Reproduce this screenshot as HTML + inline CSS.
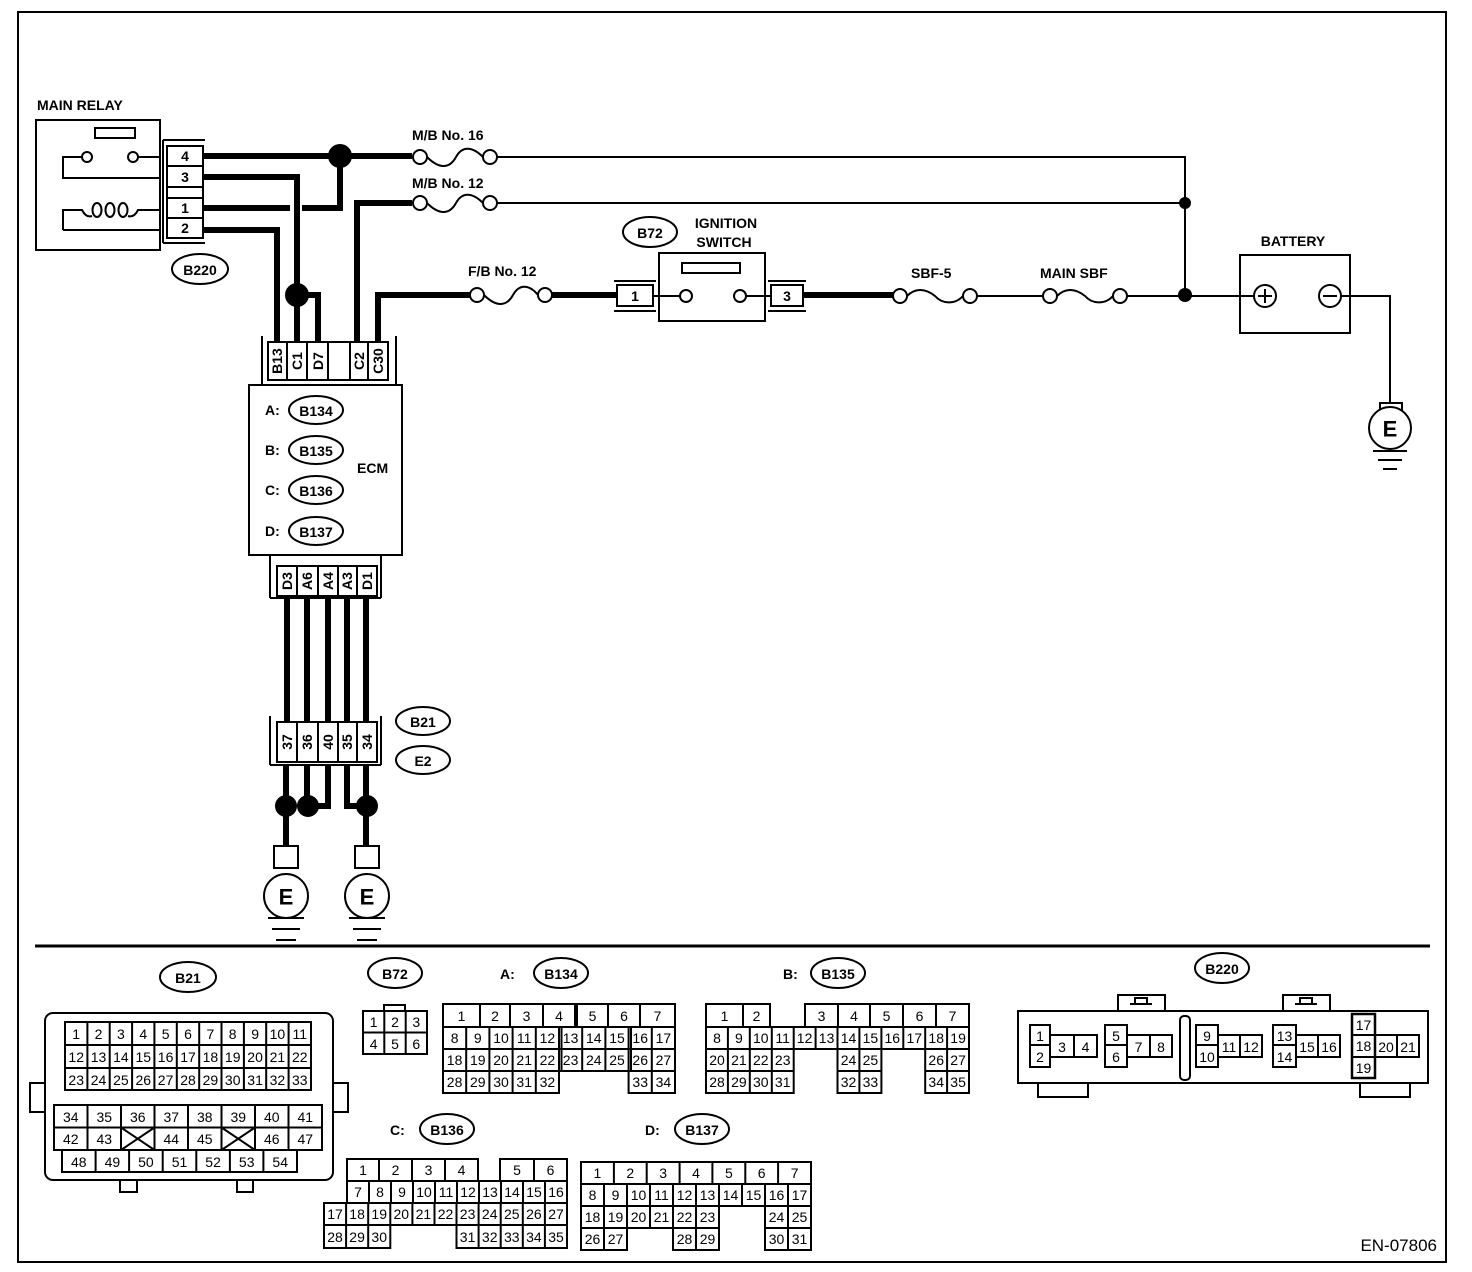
<!DOCTYPE html>
<html><head><meta charset="utf-8"><style>
html,body{margin:0;padding:0;background:#fff}
svg{display:block}
text{font-family:"Liberation Sans",sans-serif;fill:#000}
.b{font-weight:bold;font-size:14px}
.c{font-size:14px;text-anchor:middle;dominant-baseline:central}
.p{font-weight:bold;font-size:14px;text-anchor:middle;dominant-baseline:central}
.t{fill:none;stroke:#000;stroke-width:2}
.w{fill:none;stroke:#000;stroke-width:6}
.f{fill:#fff;stroke:#000;stroke-width:2}
</style></head><body>
<svg width="1472" height="1272" viewBox="0 0 1472 1272" xmlns="http://www.w3.org/2000/svg">
<rect x="18" y="12" width="1428" height="1250" class="t"/>
<line x1="35" y1="946" x2="1430" y2="946" stroke="#000" stroke-width="3"/>

<!-- MAIN RELAY -->
<text x="37" y="110" class="b">MAIN RELAY</text>
<rect x="36" y="120" width="124" height="130" class="t"/>
<rect x="95" y="128" width="40" height="10" class="t"/>
<path d="M82,157 H63 V178 H160 M138,157 H160" class="t"/>
<circle cx="87" cy="157" r="5" class="f"/><circle cx="133" cy="157" r="5" class="f"/>
<path d="M63,230 V210 H82 Q86,218 92 216 M128,216 Q134,218 138 210 H160 M63,230 H160" class="t"/>
<ellipse cx="97" cy="210" rx="4.5" ry="7" class="t"/>
<ellipse cx="110" cy="210" rx="4.5" ry="7" class="t"/>
<ellipse cx="123" cy="210" rx="4.5" ry="7" class="t"/>
<path d="M163,140 H205 M163,243 H205 M163,140 V243" class="t"/>
<rect x="167" y="146" width="36" height="20" class="f"/><text x="185" y="156" class="p">4</text>
<rect x="167" y="166" width="36" height="21" class="f"/><text x="185" y="177" class="p">3</text>
<rect x="167" y="187" width="36" height="11" class="f"/>
<rect x="167" y="198" width="36" height="20" class="f"/><text x="185" y="208" class="p">1</text>
<rect x="167" y="218" width="36" height="20" class="f"/><text x="185" y="228" class="p">2</text>
<ellipse cx="200" cy="269" rx="28" ry="15" class="t"/><text x="200" y="270" class="p">B220</text>

<!-- wires top -->
<path d="M203,156 H412" class="w"/>
<path d="M340,156 V208 H302 M290,208 H203" class="w"/>
<circle cx="340" cy="156" r="12"/>
<path d="M203,177 H297 V345" class="w"/>
<path d="M203,230 H277 V345" class="w"/>
<circle cx="297" cy="295" r="12"/>
<path d="M297,295 H318 V345" class="w"/>
<path d="M357,345 V203 H412" class="w"/>
<path d="M378,345 V295 H470" class="w"/>

<!-- fuses -->
<text x="412" y="140" class="b">M/B No. 16</text>
<circle cx="420" cy="157" r="7" class="f"/><circle cx="490" cy="157" r="7" class="f"/>
<path d="M427,157 C440,170 450,168 456,157 C462,146 472,146 483,157" class="t"/>
<text x="412" y="188" class="b">M/B No. 12</text>
<circle cx="420" cy="203" r="7" class="f"/><circle cx="490" cy="203" r="7" class="f"/>
<path d="M427,203 C440,216 450,214 456,203 C462,192 472,192 483,203" class="t"/>
<path d="M497,157 H1185 V295 M497,203 H1185" class="t"/>
<circle cx="1185" cy="203" r="6"/>

<text x="468" y="276" class="b">F/B No. 12</text>
<circle cx="477" cy="295" r="7" class="f"/><circle cx="545" cy="295" r="7" class="f"/>
<path d="M484,295 C497,308 507,306 513,295 C519,284 529,284 538,295" class="t"/>
<path d="M552,295 H617" class="w"/>

<!-- ignition -->
<ellipse cx="650" cy="232" rx="27" ry="15" class="t"/><text x="650" y="233" class="p">B72</text>
<text x="726" y="228" class="b" text-anchor="middle">IGNITION</text>
<text x="724" y="247" class="b" text-anchor="middle">SWITCH</text>
<rect x="659" y="253" width="106" height="68" class="t"/>
<rect x="682" y="263" width="58" height="10" class="t"/>
<path d="M614,281 H656 M614,311 H656 M768,281 H806 M768,311 H806" class="t"/>
<rect x="617" y="285" width="36" height="21" class="f"/><text x="635" y="296" class="p">1</text>
<rect x="771" y="285" width="32" height="21" class="f"/><text x="787" y="296" class="p">3</text>
<path d="M653,296 H680 M746,296 H771" class="t"/>
<circle cx="686" cy="296" r="6" class="f"/><circle cx="740" cy="296" r="6" class="f"/>
<path d="M803,295 H893" class="w"/>
<text x="911" y="278" class="b">SBF-5</text>
<circle cx="900" cy="296" r="7" class="f"/><circle cx="970" cy="296" r="7" class="f"/>
<path d="M907,296 C915,288 925,288 935,296 C942,304 955,305 963,296" class="t"/>
<text x="1040" y="278" class="b">MAIN SBF</text>
<path d="M977,296 H1043 M1127,296 H1254" class="t"/>
<circle cx="1050" cy="296" r="7" class="f"/><circle cx="1120" cy="296" r="7" class="f"/>
<path d="M1057,296 C1065,288 1075,288 1085,296 C1092,304 1105,305 1113,296" class="t"/>
<circle cx="1185" cy="295" r="7"/>

<!-- battery -->
<text x="1293" y="246" class="b" text-anchor="middle">BATTERY</text>
<rect x="1240" y="255" width="110" height="78" class="t"/>
<circle cx="1265" cy="296" r="11" class="f"/><path d="M1258,296 H1272 M1265,289 V303" class="t"/>
<circle cx="1330" cy="296" r="11" class="f"/><path d="M1323,296 H1337" class="t"/>
<path d="M1341,296 H1390 V403" class="t"/>
<rect x="1380" y="403" width="22" height="22" class="t"/>
<path d="M1384,425 V430 M1396,425 V430" class="t"/>
<circle cx="1390" cy="428" r="21" class="f"/>
<text x="1390" y="429" class="p" style="font-size:22px">E</text>
<path d="M1373,451 H1407 M1378,460 H1402 M1383,469 H1397" class="t"/>

<!-- ECM top connector -->
<path d="M262,336 V385 M396,336 V385 M249,385 H402" class="t"/>
<rect x="268" y="342" width="120" height="38" class="f"/>
<path d="M287,342 V380 M307,342 V380 M328,342 V380 M350,342 V380 M368,342 V380" class="t"/>
<text transform="translate(277,361) rotate(-90)" class="p">B13</text>
<text transform="translate(297,361) rotate(-90)" class="p">C1</text>
<text transform="translate(318,361) rotate(-90)" class="p">D7</text>
<text transform="translate(359,361) rotate(-90)" class="p">C2</text>
<text transform="translate(378,361) rotate(-90)" class="p">C30</text>
<rect x="249" y="385" width="153" height="170" class="t"/>
<text x="265" y="415" class="b">A:</text><ellipse cx="316" cy="410" rx="27" ry="14" class="t"/><text x="316" y="411" class="p">B134</text>
<text x="265" y="455" class="b">B:</text><ellipse cx="316" cy="450" rx="27" ry="14" class="t"/><text x="316" y="451" class="p">B135</text>
<text x="265" y="495" class="b">C:</text><ellipse cx="316" cy="490" rx="27" ry="14" class="t"/><text x="316" y="491" class="p">B136</text>
<text x="265" y="536" class="b">D:</text><ellipse cx="316" cy="531" rx="27" ry="14" class="t"/><text x="316" y="532" class="p">B137</text>
<text x="357" y="473" class="b">ECM</text>

<!-- ECM bottom connector -->
<path d="M270,555 V598 M381,555 V598 M270,598 H381" class="t"/>
<rect x="277" y="566" width="100" height="30" class="f"/>
<path d="M297,566 V596 M318,566 V596 M338,566 V596 M357,566 V596" class="t"/>
<text transform="translate(287,581) rotate(-90)" class="p">D3</text>
<text transform="translate(307,581) rotate(-90)" class="p">A6</text>
<text transform="translate(328,581) rotate(-90)" class="p">A4</text>
<text transform="translate(347,581) rotate(-90)" class="p">A3</text>
<text transform="translate(367,581) rotate(-90)" class="p">D1</text>
<path d="M287,598 V722 M307,598 V722 M328,598 V722 M347,598 V722 M366,598 V722" class="w"/>
<path d="M270,716 V765 M381,716 V765 M270,765 H381" class="t"/>
<rect x="277" y="722" width="100" height="40" class="f"/>
<path d="M297,722 V762 M318,722 V762 M338,722 V762 M357,722 V762" class="t"/>
<text transform="translate(287,742) rotate(-90)" class="p">37</text>
<text transform="translate(307,742) rotate(-90)" class="p">36</text>
<text transform="translate(328,742) rotate(-90)" class="p">40</text>
<text transform="translate(347,742) rotate(-90)" class="p">35</text>
<text transform="translate(367,742) rotate(-90)" class="p">34</text>
<ellipse cx="423" cy="721" rx="27" ry="14" class="t"/><text x="423" y="722" class="p">B21</text>
<ellipse cx="423" cy="760" rx="27" ry="14" class="t"/><text x="423" y="761" class="p">E2</text>
<path d="M286,765 V848 M307,765 V806 M328,765 V806 H307 M347,765 V806 H366 M366,765 V848" class="w"/>
<circle cx="286" cy="806" r="11"/><circle cx="308" cy="806" r="11"/><circle cx="367" cy="806" r="11"/>
<rect x="274" y="846" width="24" height="22" class="f"/>
<circle cx="286" cy="896" r="22" class="f"/><text x="286" y="897" class="p" style="font-size:22px">E</text>
<path d="M268,918 H304 M272,929 H300 M276,940 H296" class="t"/>
<rect x="355" y="846" width="24" height="22" class="f"/>
<circle cx="367" cy="896" r="22" class="f"/><text x="367" y="897" class="p" style="font-size:22px">E</text>
<path d="M349,918 H385 M353,929 H381 M357,940 H377" class="t"/>

<!-- ===== Bottom connectors ===== -->
<g class="c">
<!-- B21 -->
<ellipse cx="188" cy="977" rx="28" ry="15" class="t"/><text x="188" y="978" class="p">B21</text>
<rect x="45" y="1013" width="288" height="167" rx="8" class="t"/>
<path d="M45,1083 H30 V1112 H45 M333,1083 H348 V1112 H333 M120,1180 V1192 H137 V1180 M237,1180 V1192 H253 V1180" class="t"/>
<rect x="65" y="1022" width="246" height="68" class="t"/>
<path d="M87.4,1022V1090M109.7,1022V1090M132.1,1022V1090M154.4,1022V1090M176.8,1022V1090M199.2,1022V1090M221.5,1022V1090M243.9,1022V1090M266.2,1022V1090M288.6,1022V1090M65,1045H311M65,1068H311" class="t"/>
<text x="76.2" y="1034">1</text><text x="98.5" y="1034">2</text><text x="120.9" y="1034">3</text><text x="143.3" y="1034">4</text><text x="165.6" y="1034">5</text><text x="188" y="1034">6</text><text x="210.4" y="1034">7</text><text x="232.7" y="1034">8</text><text x="255.1" y="1034">9</text><text x="277.4" y="1034">10</text><text x="299.8" y="1034">11</text>
<text x="76.2" y="1057">12</text><text x="98.5" y="1057">13</text><text x="120.9" y="1057">14</text><text x="143.3" y="1057">15</text><text x="165.6" y="1057">16</text><text x="188" y="1057">17</text><text x="210.4" y="1057">18</text><text x="232.7" y="1057">19</text><text x="255.1" y="1057">20</text><text x="277.4" y="1057">21</text><text x="299.8" y="1057">22</text>
<text x="76.2" y="1080">23</text><text x="98.5" y="1080">24</text><text x="120.9" y="1080">25</text><text x="143.3" y="1080">26</text><text x="165.6" y="1080">27</text><text x="188" y="1080">28</text><text x="210.4" y="1080">29</text><text x="232.7" y="1080">30</text><text x="255.1" y="1080">31</text><text x="277.4" y="1080">32</text><text x="299.8" y="1080">33</text>
<rect x="54" y="1105" width="268" height="45" class="t"/>
<path d="M87.5,1105V1150M121,1105V1150M154.5,1105V1150M188,1105V1150M221.5,1105V1150M255,1105V1150M288.5,1105V1150M54,1127.5H322M121,1127.5L154.5,1150M154.5,1127.5L121,1150M221.5,1127.5L255,1150M255,1127.5L221.5,1150" class="t"/>
<rect x="62" y="1150" width="235" height="22" class="t"/>
<path d="M95.6,1150V1172M129.1,1150V1172M162.7,1150V1172M196.3,1150V1172M229.9,1150V1172M263.4,1150V1172" class="t"/>
<text x="70.8" y="1117">34</text><text x="104.3" y="1117">35</text><text x="137.8" y="1117">36</text><text x="171.3" y="1117">37</text><text x="204.8" y="1117">38</text><text x="238.3" y="1117">39</text><text x="271.8" y="1117">40</text><text x="305.3" y="1117">41</text>
<text x="70.8" y="1139">42</text><text x="104.3" y="1139">43</text><text x="171.3" y="1139">44</text><text x="204.8" y="1139">45</text><text x="271.8" y="1139">46</text><text x="305.3" y="1139">47</text>
<text x="78.8" y="1162">48</text><text x="112.4" y="1162">49</text><text x="145.9" y="1162">50</text><text x="179.5" y="1162">51</text><text x="213.1" y="1162">52</text><text x="246.7" y="1162">53</text><text x="280.2" y="1162">54</text>

<!-- B72 -->
<ellipse cx="395" cy="973" rx="27" ry="15" class="t"/><text x="395" y="974" class="p">B72</text>
<rect x="384" y="1005" width="21" height="6" class="t"/>
<rect x="363" y="1011" width="64" height="43" class="t"/>
<path d="M384.3,1011V1054M405.7,1011V1054M363,1032.5H427" class="t"/>
<text x="373.7" y="1022">1</text><text x="395" y="1022">2</text><text x="416.3" y="1022">3</text>
<text x="373.7" y="1044">4</text><text x="395" y="1044">5</text><text x="416.3" y="1044">6</text>

<!-- B134 -->
<text x="500" y="979" class="b" text-anchor="start" dominant-baseline="auto">A:</text>
<ellipse cx="561" cy="973" rx="27" ry="15" class="t"/><text x="561" y="974" class="p">B134</text>
<rect x="443" y="1004" width="232" height="23" class="t"/>
<path d="M480,1004V1027M510,1004V1027M543,1004V1027M575,1004V1027M577,1004V1027M608,1004V1027M640,1004V1027" class="t"/>
<text x="461.5" y="1016">1</text><text x="495" y="1016">2</text><text x="526.5" y="1016">3</text><text x="559" y="1016">4</text><text x="592.5" y="1016">5</text><text x="624" y="1016">6</text><text x="657.5" y="1016">7</text>
<rect x="443" y="1027" width="232" height="44" class="t"/>
<path d="M466.2,1027V1071M489.4,1027V1071M512.6,1027V1071M535.8,1027V1071M559,1027V1071M561.5,1027V1071M582.2,1027V1071M605.4,1027V1071M628.6,1027V1071M631,1027V1071M651.8,1027V1071M443,1049H675" class="t"/>
<text x="454.6" y="1038">8</text><text x="477.8" y="1038">9</text><text x="501" y="1038">10</text><text x="524.2" y="1038">11</text><text x="547.4" y="1038">12</text><text x="570.6" y="1038">13</text><text x="593.8" y="1038">14</text><text x="617" y="1038">15</text><text x="640.2" y="1038">16</text><text x="663.4" y="1038">17</text>
<text x="454.6" y="1060">18</text><text x="477.8" y="1060">19</text><text x="501" y="1060">20</text><text x="524.2" y="1060">21</text><text x="547.4" y="1060">22</text><text x="570.6" y="1060">23</text><text x="593.8" y="1060">24</text><text x="617" y="1060">25</text><text x="640.2" y="1060">26</text><text x="663.4" y="1060">27</text>
<rect x="443" y="1071" width="116" height="22" class="t"/>
<path d="M466.2,1071V1093M489.4,1071V1093M512.6,1071V1093M535.8,1071V1093" class="t"/>
<rect x="628.6" y="1071" width="46.4" height="22" class="t"/><path d="M651.8,1071V1093" class="t"/>
<text x="454.6" y="1082">28</text><text x="477.8" y="1082">29</text><text x="501" y="1082">30</text><text x="524.2" y="1082">31</text><text x="547.4" y="1082">32</text><text x="640.2" y="1082">33</text><text x="663.4" y="1082">34</text>

<!-- B135 -->
<text x="783" y="979" class="b" text-anchor="start" dominant-baseline="auto">B:</text>
<ellipse cx="838" cy="973" rx="27" ry="15" class="t"/><text x="838" y="974" class="p">B135</text>
<rect x="706" y="1004" width="64" height="23" class="t"/><path d="M743,1004V1027" class="t"/>
<rect x="805" y="1004" width="164" height="23" class="t"/>
<path d="M838,1004V1027M870,1004V1027M903,1004V1027M936,1004V1027" class="t"/>
<text x="724.5" y="1016">1</text><text x="756.5" y="1016">2</text><text x="821.5" y="1016">3</text><text x="854" y="1016">4</text><text x="886.5" y="1016">5</text><text x="919.5" y="1016">6</text><text x="952.5" y="1016">7</text>
<rect x="706" y="1027" width="263" height="22" class="t"/>
<path d="M727.9,1027V1049M749.8,1027V1049M771.8,1027V1049M793.7,1027V1049M815.6,1027V1049M837.5,1027V1049M859.4,1027V1049M881.4,1027V1049M903.3,1027V1049M925.2,1027V1049M947.1,1027V1049" class="t"/>
<text x="717" y="1038">8</text><text x="738.9" y="1038">9</text><text x="760.8" y="1038">10</text><text x="782.7" y="1038">11</text><text x="804.6" y="1038">12</text><text x="826.6" y="1038">13</text><text x="848.5" y="1038">14</text><text x="870.4" y="1038">15</text><text x="892.3" y="1038">16</text><text x="914.3" y="1038">17</text><text x="936.2" y="1038">18</text><text x="958.1" y="1038">19</text>
<rect x="706" y="1049" width="87.7" height="44" class="t"/>
<path d="M727.9,1049V1093M749.8,1049V1093M771.8,1049V1093M706,1071H793.7" class="t"/>
<rect x="837.5" y="1049" width="43.9" height="44" class="t"/><path d="M859.4,1049V1093M837.5,1071H881.4" class="t"/>
<rect x="925.2" y="1049" width="43.8" height="44" class="t"/><path d="M947.1,1049V1093M925.2,1071H969" class="t"/>
<text x="717" y="1060">20</text><text x="738.9" y="1060">21</text><text x="760.8" y="1060">22</text><text x="782.7" y="1060">23</text><text x="848.5" y="1060">24</text><text x="870.4" y="1060">25</text><text x="936.2" y="1060">26</text><text x="958.1" y="1060">27</text>
<text x="717" y="1082">28</text><text x="738.9" y="1082">29</text><text x="760.8" y="1082">30</text><text x="782.7" y="1082">31</text><text x="848.5" y="1082">32</text><text x="870.4" y="1082">33</text><text x="936.2" y="1082">34</text><text x="958.1" y="1082">35</text>

<!-- B136 -->
<text x="390" y="1135" class="b" text-anchor="start" dominant-baseline="auto">C:</text>
<ellipse cx="447" cy="1129" rx="27" ry="15" class="t"/><text x="447" y="1130" class="p">B136</text>
<rect x="347" y="1159" width="131" height="22" class="t"/><path d="M379,1159V1181M412,1159V1181M445,1159V1181" class="t"/>
<rect x="500" y="1159" width="67" height="22" class="t"/><path d="M534,1159V1181" class="t"/>
<text x="363" y="1170">1</text><text x="395.5" y="1170">2</text><text x="428.5" y="1170">3</text><text x="461.5" y="1170">4</text><text x="517" y="1170">5</text><text x="550.5" y="1170">6</text>
<rect x="347" y="1181" width="220" height="22" class="t"/>
<path d="M369,1181V1203M391,1181V1203M413,1181V1203M435,1181V1203M457,1181V1203M479,1181V1203M501,1181V1203M523,1181V1203M545,1181V1203" class="t"/>
<text x="358" y="1192">7</text><text x="380" y="1192">8</text><text x="402" y="1192">9</text><text x="424" y="1192">10</text><text x="446" y="1192">11</text><text x="468" y="1192">12</text><text x="490" y="1192">13</text><text x="512" y="1192">14</text><text x="534" y="1192">15</text><text x="556" y="1192">16</text>
<rect x="324" y="1203" width="243" height="22" class="t"/>
<path d="M346.1,1203V1225M368.2,1203V1225M390.3,1203V1225M412.4,1203V1225M434.5,1203V1225M456.5,1203V1225M478.6,1203V1225M500.7,1203V1225M522.8,1203V1225M544.9,1203V1225" class="t"/>
<text x="335" y="1214">17</text><text x="357.1" y="1214">18</text><text x="379.2" y="1214">19</text><text x="401.3" y="1214">20</text><text x="423.4" y="1214">21</text><text x="445.5" y="1214">22</text><text x="467.6" y="1214">23</text><text x="489.7" y="1214">24</text><text x="511.8" y="1214">25</text><text x="533.9" y="1214">26</text><text x="556" y="1214">27</text>
<rect x="324" y="1225" width="66.3" height="23" class="t"/><path d="M346.1,1225V1248M368.2,1225V1248" class="t"/>
<rect x="456.5" y="1225" width="110.5" height="23" class="t"/><path d="M478.6,1225V1248M500.7,1225V1248M522.8,1225V1248M544.9,1225V1248" class="t"/>
<text x="335" y="1237">28</text><text x="357.1" y="1237">29</text><text x="379.2" y="1237">30</text><text x="467.6" y="1237">31</text><text x="489.7" y="1237">32</text><text x="511.8" y="1237">33</text><text x="533.9" y="1237">34</text><text x="556" y="1237">35</text>

<!-- B137 -->
<text x="645" y="1135" class="b" text-anchor="start" dominant-baseline="auto">D:</text>
<ellipse cx="702" cy="1129" rx="27" ry="15" class="t"/><text x="702" y="1130" class="p">B137</text>
<rect x="581" y="1162" width="230" height="22" class="t"/>
<path d="M613.9,1162V1184M646.7,1162V1184M679.6,1162V1184M712.4,1162V1184M745.3,1162V1184M778.1,1162V1184" class="t"/>
<text x="597.4" y="1173">1</text><text x="630.3" y="1173">2</text><text x="663.1" y="1173">3</text><text x="696" y="1173">4</text><text x="728.9" y="1173">5</text><text x="761.7" y="1173">6</text><text x="794.6" y="1173">7</text>
<rect x="581" y="1184" width="230" height="22" class="t"/>
<path d="M604,1184V1206M627,1184V1206M650,1184V1206M673,1184V1206M696,1184V1206M719,1184V1206M742,1184V1206M765,1184V1206M788,1184V1206" class="t"/>
<text x="592.5" y="1195">8</text><text x="615.5" y="1195">9</text><text x="638.5" y="1195">10</text><text x="661.5" y="1195">11</text><text x="684.5" y="1195">12</text><text x="707.5" y="1195">13</text><text x="730.5" y="1195">14</text><text x="753.5" y="1195">15</text><text x="776.5" y="1195">16</text><text x="799.5" y="1195">17</text>
<rect x="581" y="1206" width="138" height="22" class="t"/>
<path d="M604,1206V1228M627,1206V1228M650,1206V1228M673,1206V1228M696,1206V1228" class="t"/>
<rect x="765" y="1206" width="46" height="22" class="t"/><path d="M788,1206V1228" class="t"/>
<text x="592.5" y="1217">18</text><text x="615.5" y="1217">19</text><text x="638.5" y="1217">20</text><text x="661.5" y="1217">21</text><text x="684.5" y="1217">22</text><text x="707.5" y="1217">23</text><text x="776.5" y="1217">24</text><text x="799.5" y="1217">25</text>
<rect x="581" y="1228" width="46" height="22" class="t"/><path d="M604,1228V1250" class="t"/>
<rect x="673" y="1228" width="46" height="22" class="t"/><path d="M696,1228V1250" class="t"/>
<rect x="765" y="1228" width="46" height="22" class="t"/><path d="M788,1228V1250" class="t"/>
<text x="592.5" y="1239">26</text><text x="615.5" y="1239">27</text><text x="684.5" y="1239">28</text><text x="707.5" y="1239">29</text><text x="776.5" y="1239">30</text><text x="799.5" y="1239">31</text>

<!-- B220 -->
<ellipse cx="1222" cy="968" rx="27" ry="15" class="t"/><text x="1222" y="969" class="p">B220</text>
<path d="M1118,1011V995H1165V1011M1283,1011V995H1330V1011" class="t"/>
<path d="M1130,1004H1152M1135,1004V998H1147V1004M1295,1004H1317M1300,1004V998H1312V1004" class="t"/>
<rect x="1018" y="1011" width="410" height="72" class="t"/>
<path d="M1038,1083V1097H1088V1083M1360,1083V1097H1410V1083" class="t"/>
<rect x="1180" y="1016" width="10" height="64" rx="4" class="t"/>
<rect x="1030" y="1025" width="20" height="20" class="t"/><rect x="1030" y="1045" width="20" height="22" class="t"/>
<rect x="1050" y="1035" width="47" height="22" class="t"/><path d="M1074,1035V1057" class="t"/>
<text x="1040" y="1036">1</text><text x="1040" y="1057">2</text><text x="1062" y="1047">3</text><text x="1085.5" y="1047">4</text>
<rect x="1105" y="1025" width="22" height="20" class="t"/><rect x="1105" y="1045" width="22" height="22" class="t"/>
<rect x="1127" y="1035" width="45" height="22" class="t"/><path d="M1150,1035V1057" class="t"/>
<text x="1116" y="1036">5</text><text x="1116" y="1057">6</text><text x="1138.5" y="1047">7</text><text x="1161" y="1047">8</text>
<rect x="1196" y="1025" width="22" height="20" class="t"/><rect x="1196" y="1045" width="22" height="22" class="t"/>
<rect x="1218" y="1035" width="44" height="22" class="t"/><path d="M1240,1035V1057" class="t"/>
<text x="1207" y="1036">9</text><text x="1207" y="1057">10</text><text x="1229" y="1047">11</text><text x="1251" y="1047">12</text>
<rect x="1273" y="1025" width="23" height="20" class="t"/><rect x="1273" y="1045" width="23" height="22" class="t"/>
<rect x="1296" y="1035" width="44" height="22" class="t"/><path d="M1318,1035V1057" class="t"/>
<text x="1284.5" y="1036">13</text><text x="1284.5" y="1057">14</text><text x="1307" y="1047">15</text><text x="1329" y="1047">16</text>
<rect x="1352" y="1014" width="23" height="64" class="t" style="stroke-width:2.5"/><path d="M1352,1035H1375M1352,1057H1375" class="t"/>
<rect x="1375" y="1035" width="44" height="22" class="t"/><path d="M1397,1035V1057" class="t"/>
<text x="1363.5" y="1025">17</text><text x="1363.5" y="1046">18</text><text x="1363.5" y="1068">19</text><text x="1386" y="1047">20</text><text x="1408" y="1047">21</text>
</g>
<text x="1437" y="1251" text-anchor="end" style="font-size:17px">EN-07806</text>
</svg>
</body></html>
